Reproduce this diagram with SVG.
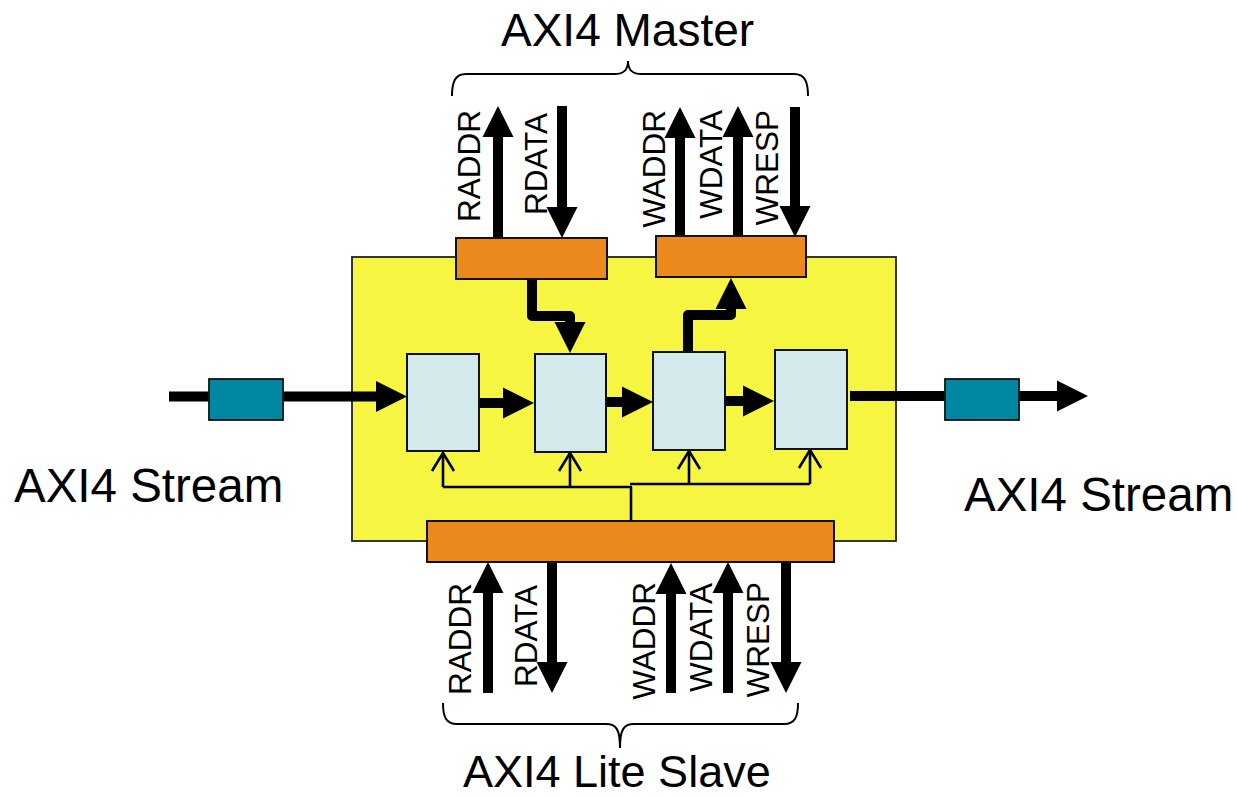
<svg xmlns="http://www.w3.org/2000/svg" width="1237" height="796" viewBox="0 0 1237 796">
  <style>
    .lbl { font-family: "Liberation Sans", Arial, sans-serif; fill: #000; }
    .sig { font-size: 31.5px; }
    .title { font-size: 46px; }
    .bus { stroke: #000; stroke-width: 10; fill: none; }
    .ctl { stroke: #000; stroke-width: 2.6; fill: none; }
    .orange { fill: #ec891d; stroke: #111; stroke-width: 2; }
    .stage { fill: #d3e9eb; stroke: #111; stroke-width: 2; }
    .teal { fill: #0088a3; stroke: #111; stroke-width: 1.8; }
    .brace { stroke: #000; stroke-width: 2; fill: none; }
  </style>
  <defs>
    <marker id="big" markerUnits="userSpaceOnUse" markerWidth="32" markerHeight="32" refX="0" refY="15.5" orient="auto" overflow="visible">
      <path d="M0,0 L31,15.5 L0,31 Z" fill="#000"/>
    </marker>
    <marker id="vee" markerUnits="userSpaceOnUse" markerWidth="24" markerHeight="24" refX="19" refY="11" orient="auto" overflow="visible">
      <path d="M1,0 L19,11 L1,22" fill="none" stroke="#000" stroke-width="2.6"/>
    </marker>
  </defs>

  <!-- main block -->
  <g id="core">
    <rect x="352" y="257" width="544" height="284" fill="#f5f542" stroke="#222" stroke-width="1.8"/>
  </g>

  <!-- connectors -->
  <g id="connectors">
    <!-- stream path -->
    <line class="bus" x1="169" y1="396.5" x2="376" y2="396.5" marker-end="url(#big)"/>
    <line class="bus" x1="479" y1="403" x2="503" y2="403" marker-end="url(#big)"/>
    <line class="bus" x1="606" y1="402" x2="622" y2="402" marker-end="url(#big)"/>
    <line class="bus" x1="725" y1="401" x2="743" y2="401" marker-end="url(#big)"/>
    <line class="bus" x1="850" y1="396" x2="1057" y2="396" marker-end="url(#big)"/>

    <!-- bent arrows to/from master ports -->
    <path class="bus" d="M532,279 V316 H570 V323" stroke-linejoin="round"/>
    <polygon points="554.5,322 585.5,322 570,353" fill="#000"/>
    <path class="bus" d="M688,352 V315 H731 V308" stroke-linejoin="round"/>
    <polygon points="715.5,309 746.5,309 731,278" fill="#000"/>

    <!-- AXI4 master signals -->
    <line class="bus" x1="498" y1="238" x2="498" y2="137" marker-end="url(#big)"/>
    <line class="bus" x1="562" y1="106" x2="562" y2="207" marker-end="url(#big)"/>
    <line class="bus" x1="680" y1="237" x2="680" y2="138" marker-end="url(#big)"/>
    <line class="bus" x1="738" y1="237" x2="738" y2="137" marker-end="url(#big)"/>
    <line class="bus" x1="795" y1="107" x2="795" y2="206" marker-end="url(#big)"/>

    <!-- AXI4 lite slave signals -->
    <line class="bus" x1="488" y1="693" x2="488" y2="593" marker-end="url(#big)"/>
    <line class="bus" x1="552" y1="562" x2="552" y2="662" marker-end="url(#big)"/>
    <line class="bus" x1="671" y1="693" x2="671" y2="594" marker-end="url(#big)"/>
    <line class="bus" x1="728" y1="693" x2="728" y2="593" marker-end="url(#big)"/>
    <line class="bus" x1="786" y1="562" x2="786" y2="662" marker-end="url(#big)"/>

    <!-- control distribution -->
    <polyline class="ctl" points="631,521 631,487"/>
    <polyline class="ctl" points="443,487 632,487"/>
    <polyline class="ctl" points="630,484 810,484"/>
    <line class="ctl" x1="443" y1="487" x2="443" y2="453" marker-end="url(#vee)"/>
    <line class="ctl" x1="570" y1="487" x2="570" y2="453" marker-end="url(#vee)"/>
    <line class="ctl" x1="689" y1="484" x2="689" y2="451" marker-end="url(#vee)"/>
    <line class="ctl" x1="810" y1="484" x2="810" y2="450" marker-end="url(#vee)"/>
  </g>

  <!-- ports -->
  <g id="master-read-port"><rect class="orange" x="456" y="238" width="151" height="41"/></g>
  <g id="master-write-port"><rect class="orange" x="656" y="236" width="150" height="41"/></g>
  <g id="slave-port"><rect class="orange" x="427" y="521" width="407" height="41"/></g>

  <!-- pipeline stages -->
  <g id="stage1"><rect class="stage" x="407" y="354" width="72" height="97"/></g>
  <g id="stage2"><rect class="stage" x="535" y="354" width="71" height="98"/></g>
  <g id="stage3"><rect class="stage" x="653" y="352" width="72" height="98"/></g>
  <g id="stage4"><rect class="stage" x="775" y="350" width="72" height="99"/></g>

  <!-- stream interfaces -->
  <g id="stream-in"><rect class="teal" x="209" y="379" width="74" height="41"/></g>
  <g id="stream-out"><rect class="teal" x="945" y="379" width="74" height="41"/></g>

  <!-- braces -->
  <g id="master-brace">
    <path class="brace" d="M452,96 C452,82 455,74 466,74 L614,74 C624,74 628,70 628,61 C628,70 632,74 642,74 L794,74 C805,74 808,82 808,96"/>
  </g>
  <g id="slave-brace">
    <path class="brace" d="M443,703 C443,717 446,724 457,724 L606,724 C616,724 620,729 620,748 C620,729 624,724 634,724 L784,724 C795,724 798,717 798,703"/>
  </g>

  <!-- labels -->
  <g id="labels">
    <text class="lbl title" x="501" y="46">AXI4 Master</text>
    <text class="lbl" x="14" y="502" font-size="47.5">AXI4 Stream</text>
    <text class="lbl" x="964" y="511" font-size="47.5">AXI4 Stream</text>
    <text class="lbl" x="463" y="787" font-size="45">AXI4 Lite Slave</text>

    <text class="lbl sig" text-anchor="end" transform="translate(480,110) rotate(-90)">RADDR</text>
    <text class="lbl sig" text-anchor="end" transform="translate(547,113) rotate(-90)">RDATA</text>
    <text class="lbl sig" text-anchor="end" transform="translate(665,110) rotate(-90)">WADDR</text>
    <text class="lbl sig" text-anchor="end" transform="translate(722,110) rotate(-90)">WDATA</text>
    <text class="lbl sig" text-anchor="end" transform="translate(778,110) rotate(-90)">WRESP</text>

    <text class="lbl sig" text-anchor="end" transform="translate(471,583) rotate(-90)">RADDR</text>
    <text class="lbl sig" text-anchor="end" transform="translate(537,585) rotate(-90)">RDATA</text>
    <text class="lbl sig" text-anchor="end" transform="translate(655,582) rotate(-90)">WADDR</text>
    <text class="lbl sig" text-anchor="end" transform="translate(712,583) rotate(-90)">WDATA</text>
    <text class="lbl sig" text-anchor="end" transform="translate(769,582) rotate(-90)">WRESP</text>
  </g>
</svg>
